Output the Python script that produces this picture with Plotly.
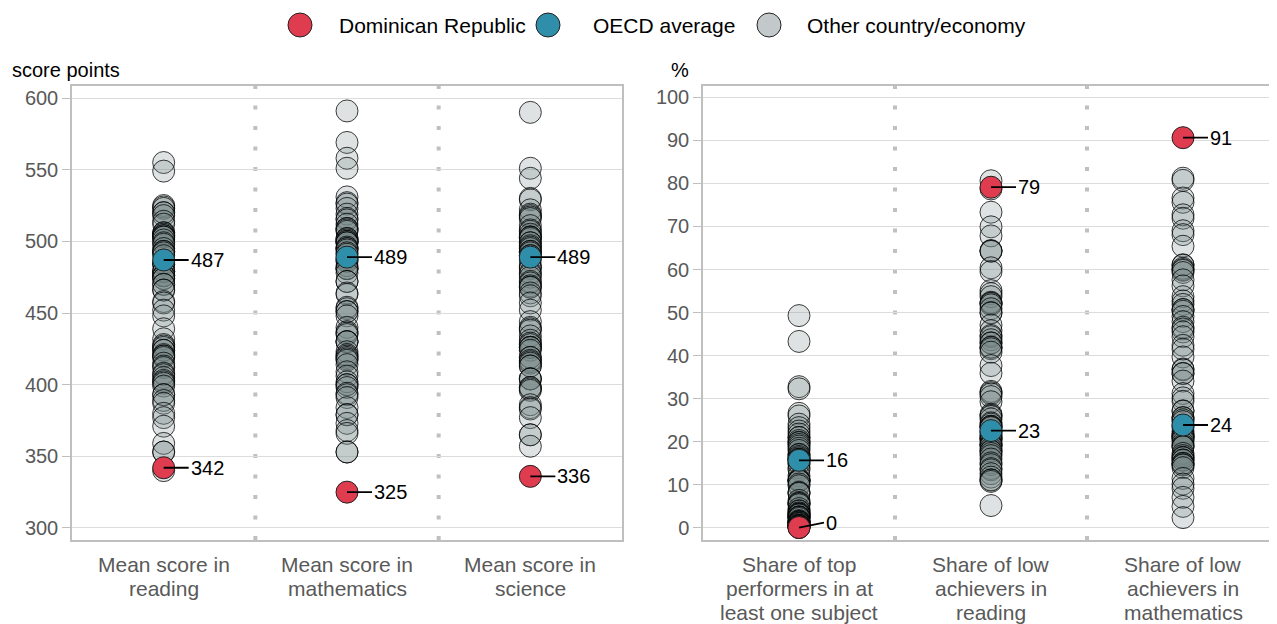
import plotly.graph_objects as go

W, H = 1277, 624
OFF = 8  # the page body margin shifts the figure by this many pixels

# categories
left_cats = ["Mean score in<br>reading", "Mean score in<br>mathematics", "Mean score in<br>science"]
right_cats = ["Share of top<br>performers in at<br>least one subject",
              "Share of low<br>achievers in<br>reading",
              "Share of low<br>achievers in<br>mathematics"]

# Dominican Republic and OECD average
dr_left = [342, 325, 336]
oecd_left = [487, 489, 489]
dr_right = [0.1, 79.1, 90.6]
oecd_right = [15.7, 22.6, 23.9]

# other countries/economies
reading = [555, 549, 525, 524, 523, 520, 520, 518, 514, 512, 506, 506, 505, 504, 504, 503, 503,
           501, 499, 498, 495, 493, 493, 492, 490, 485, 484, 484, 479, 479, 479, 476, 476, 476,
           474, 474, 470, 470, 466, 466, 458, 457, 452, 448, 439, 432, 428, 427, 426, 424, 424,
           421, 420, 420, 419, 415, 413, 412, 408, 407, 405, 403, 402, 401, 399, 393, 393, 389,
           387, 380, 377, 371, 359, 353, 353, 340]
mathematics = [591, 569, 558, 551, 531, 527, 526, 523, 519, 516, 515, 512, 509, 509, 508, 507,
               502, 502, 501, 500, 500, 499, 499, 496, 495, 495, 494, 492, 491, 488, 487, 486,
               483, 481, 481, 481, 478, 472, 472, 464, 463, 454, 453, 451, 451, 448, 440, 437,
               436, 435, 430, 430, 430, 423, 421, 420, 419, 418, 417, 414, 409, 406, 402, 400,
               400, 398, 394, 393, 391, 384, 379, 379, 373, 368, 366, 353, 353]
science = [590, 551, 544, 530, 529, 522, 519, 518, 517, 516, 511, 508, 507, 505, 503, 503, 503,
           502, 499, 499, 497, 496, 495, 493, 493, 492, 490, 490, 487, 483, 482, 481, 478, 477,
           475, 472, 471, 469, 468, 468, 464, 462, 457, 452, 444, 440, 439, 438, 434, 431, 429,
           428, 426, 426, 426, 424, 419, 419, 417, 416, 415, 413, 413, 404, 404, 404, 398, 398,
           397, 396, 386, 384, 383, 377, 365, 365, 357]
top_perf = [49.3, 43.3, 32.8, 32.3, 26.6, 26.0, 24.1, 23.3, 22.5, 21.8, 21.0, 21.0, 20.3, 19.9,
            19.8, 19.4, 19.0, 18.5, 18.0, 17.1, 17.0, 16.6, 16.3, 16.0, 15.9, 15.8, 15.6, 14.9,
            15.0, 14.0, 13.5, 12.1, 11.3, 11.0, 11.0, 11.0, 10.9, 10.2, 9.8, 8.3, 8.0, 8.1, 6.4,
            5.9, 5.6, 5.7, 5.4, 4.5, 4.0, 3.9, 3.5, 3.3, 3.2, 3.0, 3.1, 2.6, 2.5, 2.5, 2.5, 2.2,
            1.7, 1.5, 1.4, 1.4, 1.4, 1.1, 1.1, 0.9, 0.6, 0.6, 0.6, 0.5, 0.3, 0.3, 0.2, 0.1, 0.1]
low_read = [80.6, 78.7, 73.3, 69.9, 67.8, 64.4, 64.3, 64.2, 60.4, 59.5, 55.1, 54.4, 53.7, 52.4,
            52.2, 52.1, 51.8, 50.9, 50.0, 49.9, 47.1, 45.8, 44.7, 44.4, 43.7, 43.0, 42.9, 42.0,
            41.9, 41.6, 40.8, 37.7, 35.9, 31.7, 31.4, 31.1, 30.5, 29.3, 26.4, 26.1, 25.9, 25.3,
            24.4, 24.1, 23.6, 23.6, 23.4, 23.3, 22.4, 22.1, 21.6, 21.3, 20.9, 20.7, 20.7, 20.2,
            19.6, 19.3, 19.3, 19.0, 18.4, 17.9, 17.8, 17.3, 16.8, 16.0, 15.1, 14.7, 13.8, 13.5,
            12.6, 11.8, 11.2, 11.1, 10.8, 5.2]
low_math = [81.2, 80.7, 76.6, 75.6, 72.7, 71.9, 69.0, 68.1, 65.4, 61.1, 61.0, 60.3, 60.0, 59.8,
            59.3, 57.6, 56.2, 53.7, 52.7, 51.9, 50.7, 50.7, 50.3, 49.1, 47.9, 46.6, 46.2, 45.5,
            44.4, 42.4, 41.5, 39.7, 36.9, 36.7, 35.9, 35.8, 34.1, 31.2, 30.2, 29.4, 27.2, 27.1,
            25.6, 25.6, 25.1, 24.7, 23.8, 23.3, 22.4, 21.8, 21.6, 21.3, 21.1, 21.1, 20.7, 20.4,
            19.7, 19.2, 18.9, 18.8, 17.3, 16.8, 16.4, 16.3, 15.8, 15.7, 15.0, 15.0, 14.7, 14.6,
            14.0, 11.5, 10.2, 9.2, 7.1, 5.0, 2.4]

left_ticks = [300, 350, 400, 450, 500, 550, 600]
right_ticks = [0, 10, 20, 30, 40, 50, 60, 70, 80, 90, 100]

legend_names = ["Dominican Republic", "OECD average", "Other country/economy"]

RED = "#e03c50"
BLUE = "#2f8faa"
GRAY_FILL = "rgba(115,133,135,0.24)"
GRAY_LEG = "#c3c9ca"
AXIS = "#bfbfbf"
GRID = "#dcdcdc"
TXT = "#595959"
FONT = "Liberation Sans, Arial, sans-serif"


def px(x):
    # screen pixel (reference) -> paper fraction
    return min(max((x - OFF) / W, 0), 1)


def py(y):
    return 1 - (y - OFF) / H


fig = go.Figure()


def strip(xaxis, yaxis, groups):
    xs, ys = [], []
    for i, g in enumerate(groups):
        xs += [i] * len(g)
        ys += g
    fig.add_trace(go.Scatter(x=xs, y=ys, xaxis=xaxis, yaxis=yaxis, mode="markers",
                             marker=dict(size=22, color=GRAY_FILL,
                                         line=dict(color="rgba(0,0,0,0.75)", width=1)),
                             showlegend=False, hoverinfo="y"))


strip("x", "y", [reading, mathematics, science])
strip("x2", "y2", [top_perf, low_read, low_math])

for xa, ya, vals, col in [("x", "y", oecd_left, BLUE), ("x2", "y2", oecd_right, BLUE),
                          ("x", "y", dr_left, RED), ("x2", "y2", dr_right, RED)]:
    fig.add_trace(go.Scatter(x=list(range(3)), y=vals, xaxis=xa, yaxis=ya, mode="markers",
                             marker=dict(size=22, color=col, line=dict(color="#222", width=1)),
                             showlegend=False))
    for i, v in enumerate(vals):
        fig.add_annotation(x=i, y=v, xref=xa, yref=ya, text=str(round(v)), showarrow=True,
                           ax=25, ay=-5 if (v < 1) else 0, xanchor="left", arrowhead=0,
                           arrowwidth=1.8, arrowcolor="black", standoff=0, startstandoff=0,
                           font=dict(size=20, color="black"))

ydom = [py(540), py(86)]
ax_common = dict(range=[-0.5, 2.5], showgrid=False, zeroline=False, showline=True, mirror=True,
                 linecolor=AXIS, linewidth=1.5, showticklabels=False, ticks="", fixedrange=True)
fig.update_layout(
    xaxis=dict(domain=[px(72), px(622)], anchor="y", **ax_common),
    xaxis2=dict(domain=[px(703), px(1279)], anchor="y2", **ax_common),
    yaxis=dict(domain=ydom, anchor="x", range=[291.6, 608.4], tickvals=left_ticks,
               gridcolor=GRID, zeroline=False, showline=True, mirror=True, linecolor=AXIS,
               linewidth=1.5, ticks="outside", ticklen=8, tickcolor=AXIS,
               tickfont=dict(size=20, color=TXT)),
    yaxis2=dict(domain=ydom, anchor="x2", range=[-2.8, 102.6], tickvals=right_ticks,
                gridcolor=GRID, zeroline=False, showline=True, mirror=True, linecolor=AXIS,
                linewidth=1.5, ticks="outside", ticklen=8, tickcolor=AXIS,
                tickfont=dict(size=20, color=TXT)),
)

# dotted separators between categories
for xr in ["x", "x2"]:
    for xv in [0.5, 1.5]:
        fig.add_shape(type="line", xref=xr, yref="y domain" if xr == "x" else "y2 domain",
                      x0=xv, x1=xv, y0=0, y1=1, layer="below",
                      line=dict(color="#c0c0c0", width=4, dash="4px,16.5px"))

# category labels, one annotation per line
for xr, cats in [("x", left_cats), ("x2", right_cats)]:
    for i, c in enumerate(cats):
        for j, line in enumerate(c.split("<br>")):
            fig.add_annotation(x=i, xref=xr, y=py(564 + 24 * j), yref="paper", text=line,
                               showarrow=False, xanchor="center", yanchor="middle",
                               font=dict(size=21, color=TXT))

# axis titles
fig.add_annotation(x=px(10), y=py(70), xref="paper", yref="paper", text="score points",
                   showarrow=False, xanchor="left", yanchor="middle",
                   font=dict(size=20, color="black"))
fig.add_annotation(x=px(669), y=py(70), xref="paper", yref="paper", text="%",
                   showarrow=False, xanchor="left", yanchor="middle",
                   font=dict(size=20, color="black"))

# legend
for cx, tx, col, name in [(300, 337, RED, legend_names[0]), (548, 591, BLUE, legend_names[1]),
                          (769, 805, GRAY_LEG, legend_names[2])]:
    fig.add_shape(type="circle", xref="paper", yref="paper", xsizemode="pixel",
                  ysizemode="pixel", xanchor=px(cx), yanchor=py(25), x0=-12, x1=12, y0=-12,
                  y1=12, fillcolor=col, line=dict(color="#222", width=1))
    fig.add_annotation(x=px(tx), y=py(25), xref="paper", yref="paper", text=name,
                       showarrow=False, xanchor="left", yanchor="middle",
                       font=dict(size=21, color="black"))

fig.update_layout(width=W, height=H, margin=dict(l=0, r=0, t=0, b=0),
                  plot_bgcolor="white", paper_bgcolor="white",
                  font=dict(family=FONT), showlegend=False)

fig.write_html("out.html")
